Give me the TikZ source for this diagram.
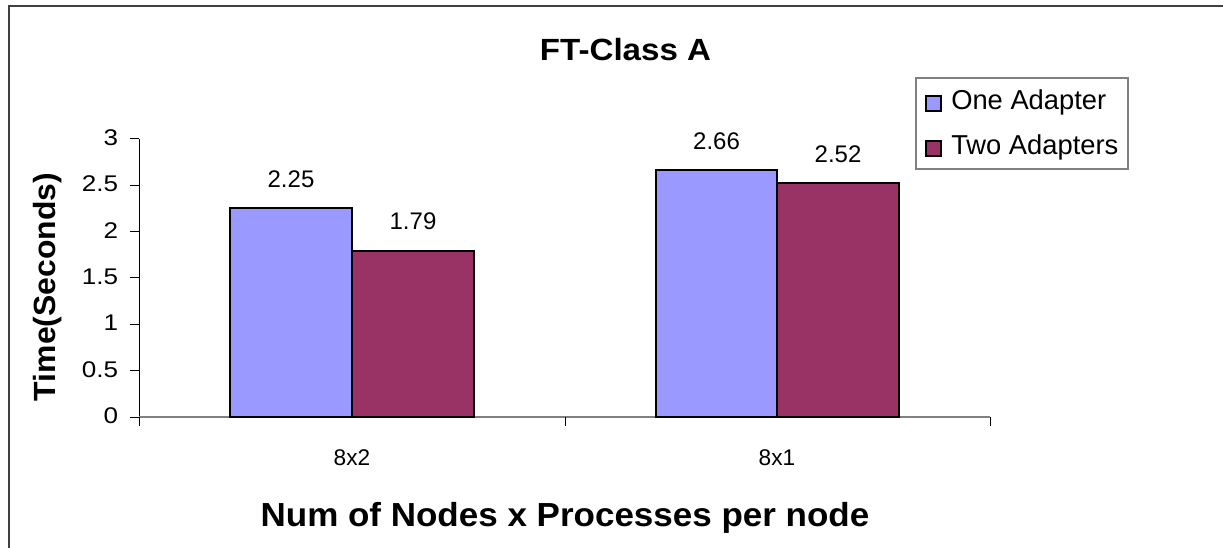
\documentclass[tikz,border=0pt]{standalone}
\usepackage{fontspec}
\setmainfont{Liberation Sans}
\usepackage{graphicx}
\definecolor{oneadp}{HTML}{9999FF}
\definecolor{twoadp}{HTML}{993366}
\definecolor{framegray}{HTML}{404040}
\definecolor{axisgray}{HTML}{808080}
\tikzset{
  lbl/.style={inner sep=0pt, outer sep=0pt, font=\fontsize{17}{20}\selectfont},
  ticklbl/.style={lbl, anchor=base east},
  datalbl/.style={lbl, anchor=base, font=\fontsize{18}{21}\selectfont},
  barbox/.style={draw=black, line width=1.5pt},
  legtxt/.style={inner sep=0pt, anchor=base west, font=\fontsize{20.5}{24}\selectfont},
  ttl/.style={inner sep=0pt, font=\bfseries\fontsize{23}{28}\selectfont},
}
\begin{document}
\begin{tikzpicture}[x=0.75pt, y=-0.75pt]
\useasboundingbox (0,0) rectangle (1223,548);
% outer chart frame (right and bottom edges run off the page)
\draw[framegray, line width=1.5pt] (9,548) -- (9,6) -- (1223,6);

% title
\node[ttl, anchor=base] (title) at (625.5,61) {\scalebox{1.08}[1]{FT-Class A}};

% value axis
\draw[black, line width=0.75pt] (139,139) -- (139,426);
\foreach \v/\yy in {0/417, 0.5/370.67, 1/324.33, 1.5/278, 2/231.67, 2.5/185.33, 3/139}{
  \draw[black, line width=0.75pt] (130,\yy) -- (139,\yy);
  \node[ticklbl] (t\v) at (118,\yy+6.5) {\scalebox{1.15}[1]{\v}};
}
% category axis
\draw[axisgray, line width=1pt] (139,417) -- (990,417);
\foreach \xx/\n in {139/a, 565/b, 990/c}{
  \draw[black, line width=0.75pt] (\xx,417) -- (\xx,426);
}
\node[lbl, anchor=base] (c1) at (352,465) {8x2};
\node[lbl, anchor=base] (c2) at (777,465) {8x1};

% bars
\fill[oneadp] (230,417) rectangle (352,208.5);
\fill[twoadp] (352,417) rectangle (474,251.1);
\fill[oneadp] (656,417) rectangle (777,170.5);
\fill[twoadp] (777,417) rectangle (899,183.5);
\draw[barbox] (230,417) rectangle (352,208.5);
\draw[barbox] (352,417) rectangle (474,251.1);
\draw[barbox] (656,417) rectangle (777,170.5);
\draw[barbox] (777,417) rectangle (899,183.5);

% data labels
\node[datalbl] (d1) at (291,187.5) {2.25};
\node[datalbl] (d2) at (413,230) {1.79};
\node[datalbl] (d3) at (716.5,149.5) {2.66};
\node[datalbl] (d4) at (838,162.5) {2.52};

% axis titles
\node[ttl, rotate=90, anchor=center] (ytitle) at (47.5,287) {\scalebox{1.04}[1]{Time(Seconds)}};
\node[ttl, anchor=base, font=\bfseries\fontsize{25}{30}\selectfont] (xtitle) at (565,526)
  {\scalebox{1.05}[1]{Num of Nodes x Processes per node}};

% legend
\draw[axisgray, line width=1pt] (916,78) rectangle (1128,169);
\draw[barbox, fill=oneadp, line width=1.2pt] (926,96) rectangle (941,111);
\draw[barbox, fill=twoadp, line width=1.2pt] (926,141) rectangle (941,156);
\node[legtxt] (l1) at (951,110) {One Adapter};
\node[legtxt] (l2) at (951,155) {Two Adapters};
\end{tikzpicture}
\end{document}
